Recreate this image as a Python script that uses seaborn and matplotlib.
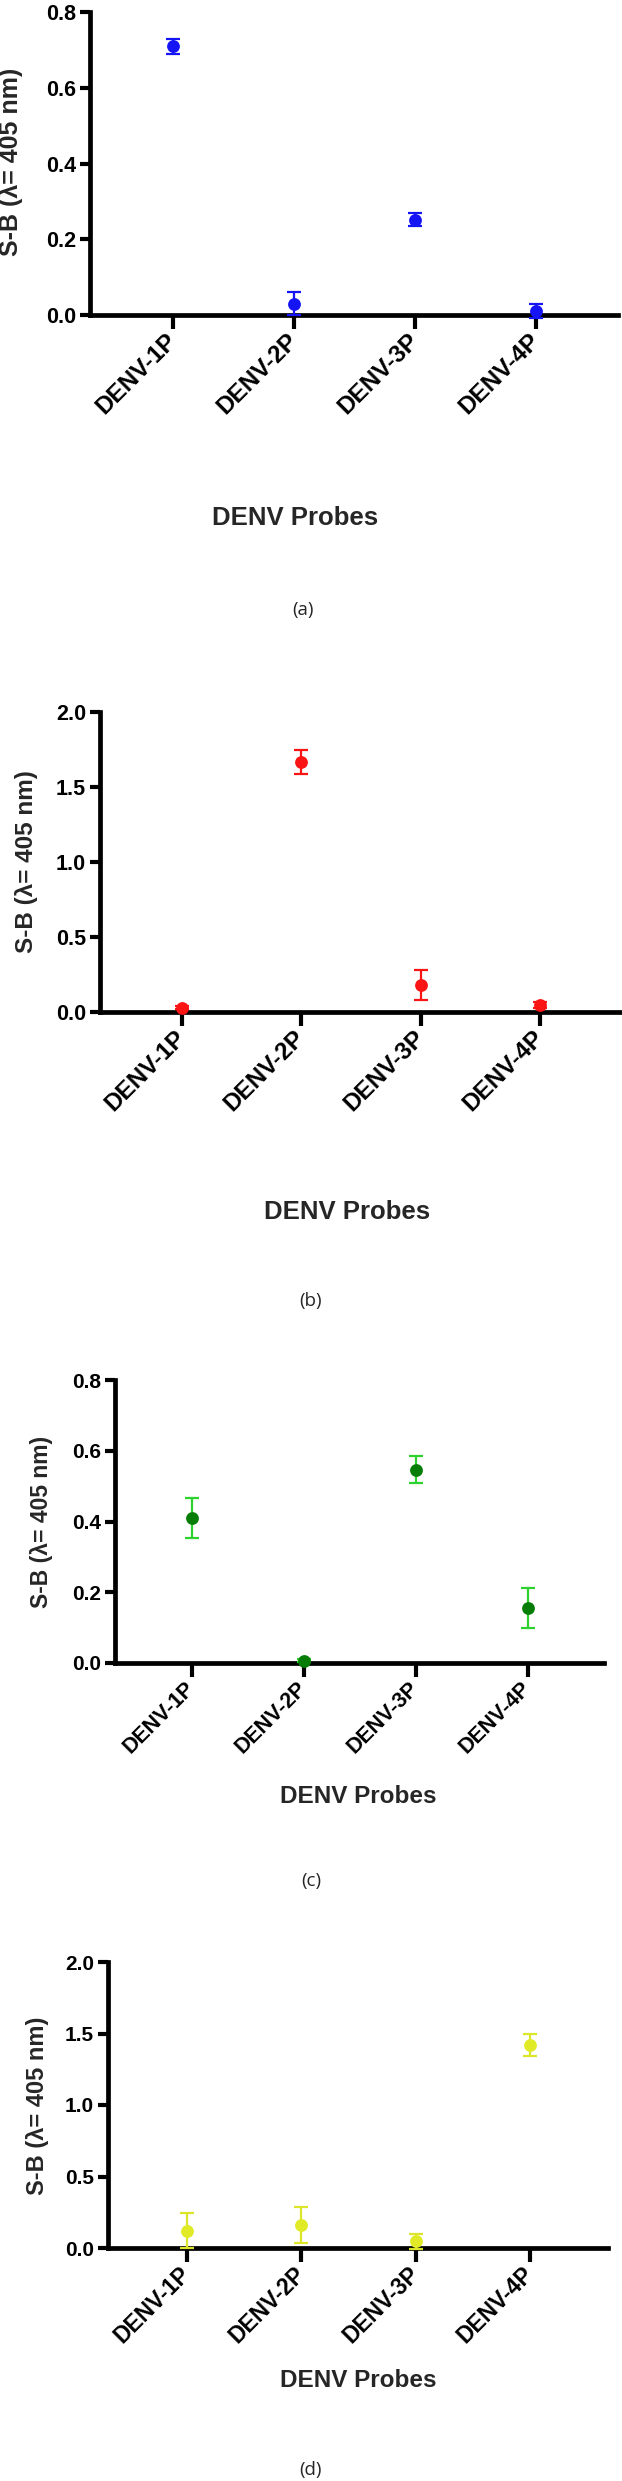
import pandas as pd
import matplotlib
matplotlib.use("Agg")
import matplotlib.pyplot as plt
import seaborn as sns

probes = ["DENV-1P", "DENV-2P", "DENV-3P", "DENV-4P"]

a_mean = [0.709, 0.030, 0.252, 0.010]
a_err = [0.020, 0.031, 0.017, 0.018]
b_mean = [0.030, 1.670, 0.180, 0.045]
b_err = [0.010, 0.080, 0.097, 0.020]
c_mean = [0.409, 0.006, 0.546, 0.156]
c_err = [0.057, 0.004, 0.038, 0.056]
d_mean = [0.122, 0.161, 0.046, 1.419]
d_err = [0.125, 0.125, 0.055, 0.078]

small_ticks = [0.0, 0.2, 0.4, 0.6, 0.8]
big_ticks = [0.0, 0.5, 1.0, 1.5, 2.0]

captions = ["(a)", "(b)", "(c)", "(d)"]
ylab = "S-B (λ= 405 nm)"
xlab = "DENV Probes"

sns.set_style("ticks")
plt.rcParams["font.family"] = ["Liberation Sans", "DejaVu Sans"]
plt.rcParams["font.weight"] = "bold"

W, H = 622, 2481
fig = plt.figure(figsize=(W / 100, H / 100), dpi=100)

# pixel boxes: left, right, top, bottom of each plot area
panels = [
    dict(box=(90, 618, 12, 315), mean=a_mean, err=a_err, ticks=small_ticks,
         mc="#1414f5", ec="#1414f5", xl=(0.388, -0.670), yl=(-0.150, 0.505),
         ytick=15.5, xtick=17.5, ylfs=18, xlfs=18.5, cap=(303, 610)),
    dict(box=(100, 621, 712, 1012), mean=b_mean, err=b_err, ticks=big_ticks,
         mc="#fa1414", ec="#fa1414", xl=(0.474, -0.667), yl=(-0.142, 0.503),
         ytick=15.5, xtick=17.5, ylfs=17.5, xlfs=18.5, cap=(311, 1301)),
    dict(box=(115, 604, 1380, 1663), mean=c_mean, err=c_err, ticks=small_ticks,
         mc="#067d06", ec="#2ed12e", xl=(0.497, -0.473), yl=(-0.151, 0.498),
         ytick=15, xtick=15.5, ylfs=16.5, xlfs=17.5, cap=(311, 1881)),
    dict(box=(108, 608, 1962, 2248), mean=d_mean, err=d_err, ticks=big_ticks,
         mc="#e0ea26", ec="#dbe62a", xl=(0.5, -0.465), yl=(-0.142, 0.497),
         ytick=15, xtick=16.5, ylfs=17, xlfs=17.5, cap=(311, 2470)),
]

for p, caption in zip(panels, captions):
    l, r, t, b = p["box"]
    ax = fig.add_axes([l / W, 1 - b / H, (r - l) / W, (b - t) / H])
    df = pd.DataFrame({"probe": probes, "value": p["mean"], "sd": p["err"]})
    ax.errorbar(range(len(probes)), df["value"], yerr=df["sd"], fmt="none",
                ecolor=p["ec"], elinewidth=1.6, capsize=5, capthick=1.6,
                zorder=3, clip_on=False)
    sns.scatterplot(data=df, x="probe", y="value", ax=ax, color=p["mc"],
                    s=85, linewidth=0, zorder=5, clip_on=False, legend=False)
    ax.set_xlim(-0.69, 3.68)
    ax.set_ylim(0, max(p["ticks"]))
    ax.set_yticks(p["ticks"])
    ax.set_yticklabels([f"{v:.1f}" for v in p["ticks"]], fontsize=p["ytick"],
                       fontweight="bold")
    ax.set_xticks(range(len(probes)))
    ax.set_xticklabels(probes, fontsize=p["xtick"], fontweight="bold",
                       rotation=45, ha="right", va="center",
                       rotation_mode="anchor")
    for s in ["top", "right"]:
        ax.spines[s].set_visible(False)
    for s in ["left", "bottom"]:
        ax.spines[s].set_linewidth(3.4)
        ax.spines[s].set_color("black")
    ax.tick_params(axis="y", length=7, width=3, pad=3, colors="black")
    ax.tick_params(axis="x", length=10, width=3, pad=6, colors="black")
    ax.set_xlabel(xlab, fontsize=p["xlfs"], fontweight="bold")
    ax.xaxis.set_label_coords(*p["xl"])
    ax.xaxis.label.set_va("center")
    ax.set_ylabel(ylab, fontsize=p["ylfs"], fontweight="bold")
    ax.yaxis.set_label_coords(*p["yl"])
    ax.yaxis.label.set_va("center")
    ax.set_facecolor("white")
    cx, cy = p["cap"]
    fig.text(cx / W, 1 - cy / H, caption, ha="center", va="center",
             fontsize=13.5, fontweight="normal",
             family=["Open Sans", "DejaVu Sans"])

fig.savefig("out.png", dpi=100, facecolor="white")
